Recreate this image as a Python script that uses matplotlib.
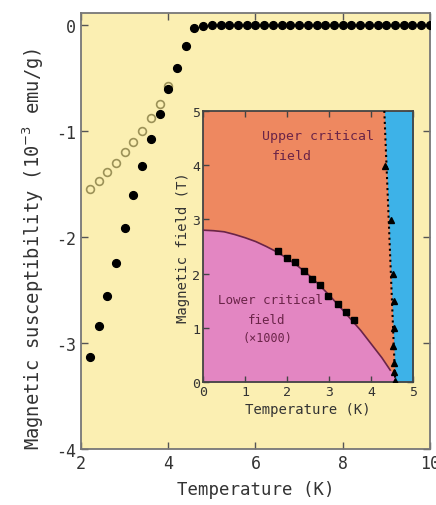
import numpy as np
import matplotlib
matplotlib.use("Agg")
import matplotlib.pyplot as plt

plt.rcParams["font.family"] = ["DejaVu Sans Mono", "DejaVu Sans"]
plt.rcParams["axes.unicode_minus"] = False

# ── main panel: susceptibility vs temperature ────────────────────────────────
zfc_T = [2.2, 2.4, 2.6, 2.8, 3.0, 3.2, 3.4, 3.6, 3.8, 4.0, 4.2, 4.4, 4.6,
         4.8, 5.0, 5.2, 5.4, 5.6, 5.8, 6.0, 6.2, 6.4, 6.6, 6.8, 7.0, 7.2,
         7.4, 7.6, 7.8, 8.0, 8.2, 8.4, 8.6, 8.8, 9.0, 9.2, 9.4, 9.6, 9.8, 10.0]
zfc_chi = [-3.13, -2.84, -2.56, -2.25, -1.92, -1.61, -1.33, -1.08, -0.84,
           -0.61, -0.41, -0.20, -0.03, -0.01, 0, 0, 0, 0, 0, 0, 0, 0, 0, 0,
           0, 0, 0, 0, 0, 0, 0, 0, 0, 0, 0, 0, 0, 0, 0, 0]

fc_T = [2.2, 2.4, 2.6, 2.8, 3.0, 3.2, 3.4, 3.6, 3.8, 4.0]
fc_chi = [-1.55, -1.47, -1.39, -1.30, -1.20, -1.11, -1.00, -0.88, -0.75, -0.58]

main_xticks = [2, 4, 6, 8, 10]
main_yticks = [0, -1, -2, -3, -4]

# ── inset: phase diagram ─────────────────────────────────────────────────────
hc1_T = [1.79, 1.99, 2.19, 2.39, 2.59, 2.79, 2.98, 3.20, 3.40, 3.60]
hc1_H = [2.42, 2.28, 2.21, 2.04, 1.90, 1.78, 1.59, 1.44, 1.29, 1.15]

hc1_curve_T = [0, 0.25, 0.5, 0.75, 1.0, 1.25, 1.5, 1.75, 2.0, 2.25, 2.5,
               2.75, 3.0, 3.25, 3.5, 3.75, 4.0, 4.25, 4.45]
hc1_curve_H = [2.80, 2.79, 2.77, 2.72, 2.66, 2.59, 2.50, 2.40, 2.28, 2.14,
               1.98, 1.80, 1.60, 1.39, 1.17, 0.95, 0.70, 0.45, 0.22]

hc2_T = [4.33, 4.47, 4.52, 4.55, 4.53, 4.52, 4.53, 4.55, 4.57]
hc2_H = [3.99, 2.98, 1.99, 1.50, 0.99, 0.67, 0.36, 0.18, 0.02]

hc2_line_T = [4.31, 4.57]
hc2_line_H = [5.0, 0.0]

inset_ticks = [0, 1, 2, 3, 4, 5]

yellow = "#FBEFB2"
orange = "#EE8860"
pink = "#E386C2"
blue = "#3DB2E8"
maroon = "#6A2448"
txt = "#333333"

fig = plt.figure(figsize=(4.36, 5.06), dpi=100)
ax = fig.add_axes([0.186, 0.111, 0.800, 0.861])
ax.set_facecolor(yellow)

ax.plot(fc_T, fc_chi, "o", ms=5.6, mfc="none", mec="#9C9258", mew=1.2,
        zorder=3)
ax.plot(zfc_T, zfc_chi, "o", ms=5.6, color="black", zorder=4)

ax.set_xlim(2, 10)
ax.set_ylim(-4, 0.11)
ax.set_xticks(main_xticks)
ax.set_yticks(main_yticks)
ax.set_xticklabels([str(t) for t in main_xticks])
ax.set_yticklabels([str(t) for t in main_yticks])
ax.tick_params(direction="in", length=5, width=1, colors="#555555",
               labelcolor=txt, labelsize=12, top=True, right=True)
for s in ax.spines.values():
    s.set_color("#777777")
    s.set_linewidth(1.3)
ax.set_xlabel("Temperature (K)", fontsize=12.5, color=txt, labelpad=6)
ax.set_ylabel("Magnetic susceptibility (10$^{-3}$ emu/g)", fontsize=13.5,
              color=txt, labelpad=4)
ax.yaxis.set_label_coords(-0.10, 0.46)

# inset
axi = fig.add_axes([0.466, 0.243, 0.482, 0.536])
axi.set_facecolor(orange)
axi.fill_between(hc1_curve_T + [4.7], hc1_curve_H + [0.0], 0, color=pink,
                 lw=0, zorder=1)
axi.fill_betweenx(hc2_line_H, hc2_line_T, 5, color=blue, lw=0, zorder=2)
axi.plot(hc1_curve_T, hc1_curve_H, color=maroon, lw=1.2, zorder=3)
axi.plot(hc2_line_T, hc2_line_H, ":", color="black", lw=1.5, zorder=3)
axi.plot(hc1_T, hc1_H, "s", ms=4.5, color="black", zorder=4)
axi.plot(hc2_T, hc2_H, "^", ms=5, color="black", zorder=4)

axi.set_xlim(0, 5)
axi.set_ylim(0, 5)
axi.set_xticks(inset_ticks)
axi.set_yticks(inset_ticks)
axi.tick_params(direction="in", length=4, width=1, colors="#444444",
                labelcolor=txt, labelsize=9.5, top=True, right=True, pad=2)
for s in axi.spines.values():
    s.set_color("#444444")
    s.set_linewidth(1.3)
axi.set_xlabel("Temperature (K)", fontsize=10, color=txt, labelpad=3)
axi.set_ylabel("Magnetic field (T)", fontsize=10, color=txt, labelpad=2)

axi.text(1.40, 4.54, "Upper critical", fontsize=9.5, color=maroon,
         va="center", zorder=5)
axi.text(2.10, 4.17, "field", fontsize=9.5, color=maroon, ha="center",
         va="center", zorder=5)
axi.text(0.36, 1.53, "Lower critical", fontsize=9, color=maroon,
         va="center", zorder=5)
axi.text(1.52, 1.16, "field", fontsize=9, color=maroon, ha="center",
         va="center", zorder=5)
axi.text(1.52, 0.83, "(×1000)", fontsize=8.5, color=maroon, ha="center",
         va="center", zorder=5)

fig.savefig("out.png", dpi=100, facecolor="white")
